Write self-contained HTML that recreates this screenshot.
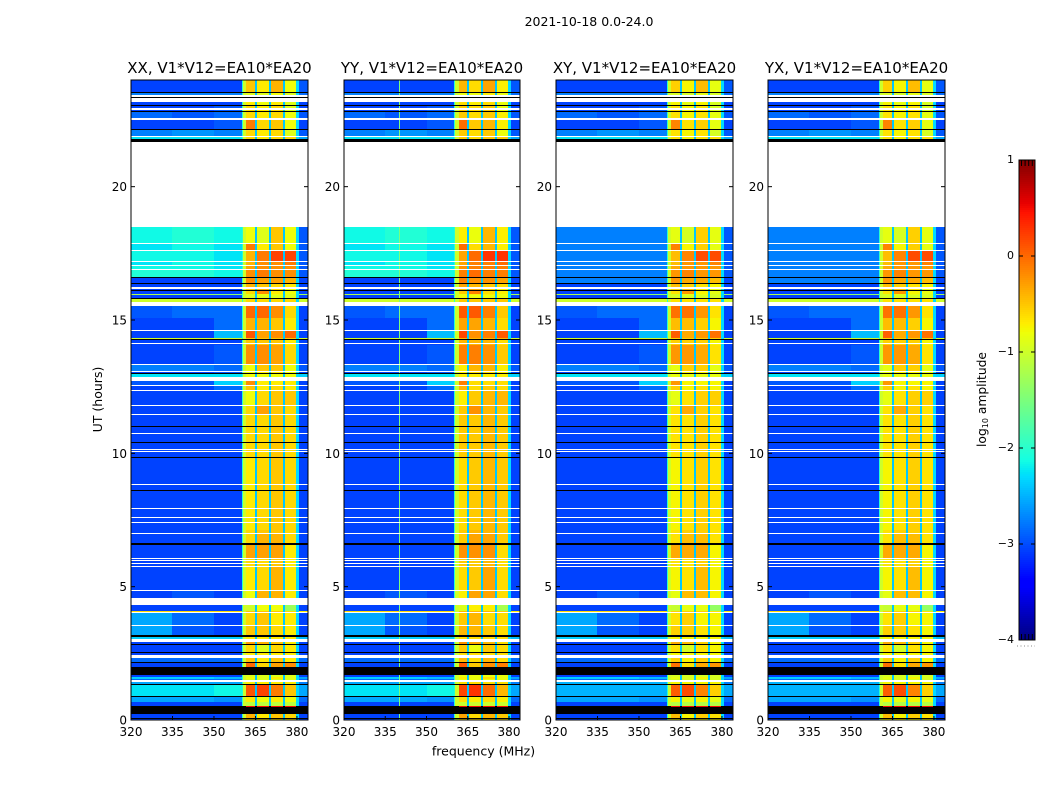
<!DOCTYPE html>
<html lang="en">
<head>
<meta charset="utf-8">
<title>2021-10-18 0.0-24.0</title>
<style>
html,body{margin:0;padding:0;background:#fff;}
svg{display:block;}
text{font-family:"DejaVu Sans","Liberation Sans",sans-serif;fill:#000;}
</style>
</head>
<body>
<svg id="chart" xmlns="http://www.w3.org/2000/svg" width="1050" height="800" viewBox="0 0 1050 800">
<rect x="0" y="0" width="1050" height="800" fill="#fff"/>
<text x="589" y="26" font-size="12.5" text-anchor="middle">2021-10-18 0.0-24.0</text>
<text x="0" y="0" font-size="12.5" text-anchor="middle" transform="translate(102 399.5) rotate(-90)">UT (hours)</text>
<text x="483.5" y="755.5" font-size="12.5" text-anchor="middle">frequency (MHz)</text>
<text x="0" y="0" font-size="12.3" text-anchor="middle" transform="translate(986 399.5) rotate(-90)">log<tspan font-size="8" dy="2">10</tspan><tspan dy="-2"> amplitude</tspan></text>
<g id="panels"></g>
<g id="colorbar"></g>
</svg>
<script>
// ---- chart data ----
const W = null;   // flagged (white) scan
const K = -9;     // blanked (black) scan
const panelTitles = ['XX, V1*V12=EA10*EA20','YY, V1*V12=EA10*EA20','XY, V1*V12=EA10*EA20','YX, V1*V12=EA10*EA20'];
const xTickLabels = [320,335,350,365,380];
const yTickLabels = [0,5,10,15,20];
const colorbarTicks = [1,0,-1,-2,-3,-4];
// frequency column edges (MHz)
const freqEdges = [320,335,350,360.1,360.5,361.7,364.9,365.6,369.8,370.5,375,375.7,379.8,380.6,384];
const preEdgeLevel = -2.0;
const edgeLevel = -1.0;
const postEdgeLevel = -2.3;
const gapLevel = -2.4;
// calibration of the read-off levels
const continuumShift = -0.35;
const continuumFloor = -3.05;
const bandShift = 0.1;
// polarisation level adjustments for the band above 361 MHz
const bandOffset = [0,0.08,-0.05,-0.05];
// cross-hand continuum overrides (hours, log10 amplitude)
const crossStart = [16.45,0.9];
const crossEnd = [18.5,1.45];
const crossLevel = [-2.4,-2.15];
// RFI line frequency in each panel
const rfiFreq = [null,340,null,null];
const rfiLevel = -1.5;
// top edge (UT hours) of each scan, from 24 h downward
const scanTop = [
24.00,23.55,23.51,23.44,23.37,23.35,23.18,23.05,23.01,22.95,
22.89,22.84,22.81,22.58,22.50,22.15,22.11,21.90,21.86,21.79,
21.69,18.50,17.88,17.84,17.63,17.57,17.23,17.18,17.08,17.04,
16.91,16.86,16.61,16.58,16.39,16.35,16.24,16.18,16.13,16.08,
15.98,15.92,15.84,15.79,15.69,15.53,15.08,14.63,14.58,14.33,
14.27,14.25,14.15,14.11,14.08,14.05,13.35,13.31,13.09,13.05,
13.01,12.98,12.88,12.71,12.56,12.53,12.38,12.34,11.81,11.78,
11.46,11.42,11.03,10.99,10.75,10.71,10.44,10.39,10.16,10.11,
10.09,10.05,9.86,9.83,8.85,8.80,8.61,8.57,7.95,7.91,
7.61,7.58,7.44,7.40,7.14,7.11,7.01,6.98,6.64,6.56,
6.09,6.05,6.00,5.96,5.87,5.84,5.78,5.75,4.88,4.84,
4.56,4.31,4.09,4.05,4.00,3.55,3.51,3.17,3.13,3.04,
2.91,2.86,2.81,2.55,2.51,2.45,2.31,2.18,2.14,1.99,
1.67,1.63,1.52,1.50,1.44,1.35,1.31,0.90,0.86,0.69,
0.66,0.51,0.48,0.21,0.08,0.04
];
// levels: 320-335, 335-350, 350-360, sub-band 1..4, 380-384
const scanLevels = [
[-2.9,-2.8,-2.8,-.6,-.8,-.5,-.9,-2.6],K,[-2.4,-2.4,-2.4,-1,-1,-.9,-1,-2.5],W,K,W,
[-2.8,-2.8,-2.7,-.8,-.9,-.8,-1,-2.7],K,[-2.7,-2.7,-2.6,-.7,-.8,-.7,-1,-2.7],W,
[-2.7,-2.7,-2.6,-.7,-.8,-.7,-1,-2.7],K,[-2.5,-2.6,-2.5,-.7,-.8,-.7,-.9,-2.6],W,[-2.8,-2.7,-2.6,-.2,-.7,-.6,-.9,-2.7],K,[-2.4,-2.3,-2.4,-.7,-.8,-.7,-1,-2.6],W,[-1.9,-1.9,-1.9,-.7,-.8,-.7,-.7,-2.2],K,
W,[-1.8,-1.7,-1.8,-.9,-1,-.6,-.9,-2.6],W,[-1.9,-1.8,-1.9,-.2,-.8,-.6,-.9,-2.6],W,[-1.8,-1.8,-1.9,-.5,-.2,.1,.1,-2.6],W,[-1.9,-1.8,-1.9,-.5,-.3,-.3,-.2,-2.6],W,[-1.8,-1.8,-1.9,-.4,-.3,-.3,-.3,-2.6],
W,[-1.7,-1.7,-1.8,-.3,-.2,-.3,-.3,-2.6],K,[-3,-3,-2.9,-.3,-.4,-.4,-.5,-2.9],K,[-2.9,-2.8,-2.7,-.5,-.6,-.7,-.8,-2.8],W,[-3,-3,-2.9,-.6,-.5,-.7,-.9,-3],K,[-2.9,-2.8,-2.7,-.7,-.3,-.8,-.9,-2.9],
[-1.2,-1.3,-1.4,-1,-.9,-.9,-1,-1.3],[-3,-3,-3,-1,-1,-1,-1,-3],K,[-1,-1,-1,-.7,-.7,-.7,-.7,-1],W,[-2.6,-2.5,-2.5,-.1,-.1,-.3,-.7,-2.8],[-2.8,-2.7,-2.5,-.5,-.5,-.6,-.8,-2.8],W,[-2.8,-2.8,-2.1,0,-.4,-.3,-.1,-2.8],[-1,-1,-1,-.6,-.6,-.6,-.6,-1],
K,[-2.8,-2.8,-2.7,-.6,-.6,-.6,-.8,-2.8],W,[-2.8,-2.8,-2.7,-.6,-.6,-.6,-.8,-2.8],W,[-2.8,-2.7,-2.6,-.3,-.3,-.4,-.7,-2.8],W,[-2.4,-2.4,-2.5,-.9,-.6,-.6,-.9,-2.6],W,[-2.7,-2.7,-2.6,-.9,-.8,-.8,-.9,-2.7],
K,[-1.9,-1.9,-1.9,-.9,-.9,-.9,-.9,-2],W,[-2.6,-2.6,-2,-.3,-.8,-.8,-.8,-2.7],W,[-2.8,-2.8,-2.5,-.6,-.8,-.7,-.8,-2.8],W,[-3,-3,-2.9,-.9,-.7,-.6,-.6,-2.9],W,[-3,-3,-2.9,-.7,-.4,-.6,-.7,-2.9],
W,[-2.9,-2.9,-2.9,-.7,-.7,-.6,-.7,-2.9],K,[-2.9,-2.9,-2.9,-.7,-.7,-.6,-.7,-2.9],W,[-2.9,-2.9,-2.9,-.7,-.7,-.6,-.7,-2.9],K,[-2.8,-2.8,-2.8,-.7,-.7,-.6,-.7,-2.9],W,[-2.8,-2.8,-2.8,-.7,-.7,-.6,-.7,-2.9],
W,[-2.8,-2.8,-2.8,-.7,-.7,-.6,-.7,-2.9],K,[-2.9,-2.9,-2.9,-.8,-.7,-.6,-.7,-2.9],W,[-2.9,-2.9,-2.9,-.8,-.7,-.6,-.7,-2.9],K,[-2.9,-2.9,-2.9,-.8,-.7,-.6,-.7,-2.9],W,[-2.9,-2.9,-2.9,-.8,-.7,-.6,-.7,-2.9],
W,[-2.8,-2.8,-2.9,-.8,-.7,-.6,-.7,-2.9],W,[-2.8,-2.8,-2.9,-.8,-.7,-.6,-.7,-2.9],W,[-2.8,-2.8,-2.9,-.7,-.6,-.6,-.7,-2.9],W,[-2.8,-2.8,-2.9,-.7,-.5,-.5,-.7,-2.9],K,[-2.8,-2.8,-2.8,-.4,-.4,-.4,-.8,-2.9],
W,[-2.7,-2.7,-2.8,-.7,-.7,-.6,-.8,-2.9],W,[-2.7,-2.7,-2.8,-.7,-.7,-.6,-.8,-2.9],W,[-2.7,-2.7,-2.8,-.7,-.7,-.6,-.8,-2.9],W,[-2.7,-2.7,-2.8,-.8,-.7,-.5,-.8,-2.8],W,[-2.7,-2.6,-2.7,-.9,-.5,-.5,-.8,-2.9],
W,[-2.8,-2.8,-2.7,-1.1,-.9,-.9,-1.4,-2.8],[-.6,-.6,-.6,-.6,-.6,-.6,-.7,-.7],W,[-2.2,-2.5,-2.7,-.7,-.6,-.8,-.8,-2.9],W,[-2.2,-2.6,-2.8,-.6,-.6,-.7,-.8,-2.9],K,[-2,-2,-2,-.8,-.8,-.8,-.8,-2.1],W,
[-3,-3,-3,-.4,-.5,-.6,-.8,-3],K,[-2.8,-2.7,-2.8,-.7,-1,-.7,-.8,-2.9],K,[-3,-3,-3,-.8,-.8,-.8,-.8,-3],W,[-2.5,-2.5,-2.5,-.6,-.8,-.6,-.8,-2.5],K,[-3,-3,-3,-.1,-.7,-.4,-.3,-3],K,
[-2.8,-2.8,-2.8,-1,-1,-1,-1,-2.8],[-2,-2,-2.1,-.9,-1,-.8,-1,-2.2],[-2.5,-2.5,-2.5,-1,-1,-1,-1,-2.5],W,[-2.2,-2.2,-2.2,-.8,-.8,-.8,-.8,-2.4],K,[-1.9,-1.9,-1.8,0,.1,-.2,-.6,-2.2],K,[-2.2,-2.2,-2.3,-.8,-.9,-.8,-.9,-2.5],K,
[-3,-3,-3,-1.2,-1.2,-1.2,-1.2,-3],[-9,-9,-9,.5,.5,.5,.5,-9],K,[-2.8,-2.8,-2.8,-.5,-.8,-.6,-.7,-2.9],K,[-2.9,-2.9,-2.9,-.8,-.8,-.8,-.8,-2.9]
];
// ---- layout ----
const panelLeft = [131,344,556,768];
const panelRight = [308,520,733,945];
const plotTop = 80, plotBottom = 720;
const NS = 'http://www.w3.org/2000/svg';
const svgPanels = document.getElementById('panels');
const svgBar = document.getElementById('colorbar');

function xScale(p, f){ return panelLeft[p] + (f-320)/(384-320)*(panelRight[p]-panelLeft[p]); }
function yScale(h){ return plotBottom - h/24*(plotBottom-plotTop); }
function jet(v){
  const t = Math.max(0,Math.min(1,(v+4)/5));
  const ch = (pts)=>{ for(let i=1;i<pts.length;i++){ if(t<=pts[i][0]){ const a=pts[i-1],b=pts[i]; return a[1]+(b[1]-a[1])*(t-a[0])/(b[0]-a[0]); } } return pts[pts.length-1][1]; };
  const r = ch([[0,0],[.35,0],[.66,1],[.89,1],[1,.5]]);
  const g = ch([[0,0],[.125,0],[.375,1],[.64,1],[.91,0],[1,0]]);
  const b = ch([[0,.5],[.11,1],[.34,1],[.65,0],[1,0]]);
  return 'rgb('+Math.round(r*255)+','+Math.round(g*255)+','+Math.round(b*255)+')';
}
function colorOf(v){ return v < -5 ? '#000' : jet(v); }
function make(tag, attrs, parent){
  const el = document.createElementNS(NS, tag);
  for (const k in attrs) el.setAttribute(k, attrs[k]);
  parent.appendChild(el);
  return el;
}
function cont(v){ return v < -1.5 ? Math.max(v+continuumShift, continuumFloor) : v; }
function columnLevels(row, p, mid){
  if (row === K) return freqEdges.slice(1).map(()=>K);
  let a = row[0], b = row[1], c = row[2];
  if (p >= 2) {
    for (let i=0;i<crossStart.length;i++) {
      if (mid>=crossStart[i] && mid<=crossEnd[i]) { a=b=c=crossLevel[i]; }
    }
  }
  const o = bandOffset[p] + bandShift;
  const blank = row[0] < -5;
  return blank
    ? [K,K,K,K,K,row[3],K,row[4],K,row[5],K,row[6],K,K]
    : [cont(a),cont(b),cont(c),preEdgeLevel,edgeLevel,row[3]+o,gapLevel,row[4]+o,gapLevel,row[5]+o,gapLevel,row[6]+o,postEdgeLevel,cont(row[7])];
}

panelTitles.forEach((title,p)=>{
  const g = make('g',{},svgPanels);
  
  
  const bg = make('rect',{x:panelLeft[p],y:plotTop,width:panelRight[p]-panelLeft[p],height:plotBottom-plotTop,fill:'#fff'},g);
  
  
  scanLevels.forEach((row,i)=>{
    if (row === W) return;
    const top = scanTop[i];
    const bottom = i+1<scanTop.length ? scanTop[i+1] : 0;
    const y1 = Math.round(yScale(top));
    const y2 = Math.max(y1+1, Math.round(yScale(bottom)));
    const levels = columnLevels(row,p,(top+bottom)/2);
    levels.forEach((v,c)=>{
      const x1 = Math.round(xScale(p,freqEdges[c]));
      const x2 = Math.round(xScale(p,freqEdges[c+1]));
      if (x2 <= x1) return;
      const cell = make('rect',{x:x1,y:y1,width:x2-x1,height:y2-y1,fill:colorOf(v),'shape-rendering':'crispEdges'},g);
      
      
    });
    if (rfiFreq[p] !== null && row !== K && row[0] > -5) {
      const rx = Math.round(xScale(p,rfiFreq[p]));
      const rfi = make('rect',{x:rx,y:y1,width:1,height:y2-y1,fill:colorOf(rfiLevel),'shape-rendering':'crispEdges'},g);
      
      
    }
  });
  const frame = make('rect',{x:panelLeft[p],y:plotTop,width:panelRight[p]-panelLeft[p],height:plotBottom-plotTop,fill:'none',stroke:'#000','stroke-width':1},g);
  
  
  yTickLabels.forEach(h=>{
    const y = yScale(h);
    const t1 = make('line',{x1:panelLeft[p],x2:panelLeft[p]+4,y1:y,y2:y,stroke:'#000'},g);
    
    
    const t2 = make('line',{x1:panelRight[p]-4,x2:panelRight[p],y1:y,y2:y,stroke:'#000'},g);
    
    
    const lab = make('text',{x:panelLeft[p]-4,y:y+4.5,'font-size':12,'text-anchor':'end'},g);
    
    
    lab.textContent = h;
  });
  xTickLabels.forEach(f=>{
    const x = xScale(p,f);
    const t1 = make('line',{x1:x,x2:x,y1:plotBottom-4,y2:plotBottom,stroke:'#000'},g);
    
    
    const lab = make('text',{x:x,y:plotBottom+16,'font-size':12,'text-anchor':'middle'},g);
    
    
    lab.textContent = f;
  });
  const tt = make('text',{x:(panelLeft[p]+panelRight[p])/2,y:plotTop-7,'font-size':15,'text-anchor':'middle'},g);
  
  
  tt.textContent = title;
});

// ---- colorbar ----
const barLeft = 1019, barRight = 1035, barTop = 160, barBottom = 640;
function barY(v){ return barBottom - (v+4)/5*(barBottom-barTop); }
for (let py = barTop; py < barBottom; py += 2) {
  const seg = make('rect',{x:barLeft,y:py,width:barRight-barLeft,height:2,fill:jet(-4+(barBottom-py-1)/(barBottom-barTop)*5),'shape-rendering':'crispEdges'},svgBar);
  
  
}
const barFrame = make('rect',{x:barLeft,y:barTop,width:barRight-barLeft,height:barBottom-barTop,fill:'none',stroke:'#000','stroke-width':1},svgBar);


colorbarTicks.forEach(v=>{
  const y = barY(v);
  const a = make('line',{x1:barLeft,x2:barLeft+4,y1:y,y2:y,stroke:'#000'},svgBar);
  
  
  const b = make('line',{x1:barRight-4,x2:barRight,y1:y,y2:y,stroke:'#000'},svgBar);
  
  
  const lab = make('text',{x:1014,y:y+3,'font-size':11,'text-anchor':'end'},svgBar);
  
  
  lab.textContent = v < 0 ? '\u2212'+Math.abs(v) : String(v);
});
const minorTop = make('line',{x1:barLeft+2,x2:barRight-1,y1:barTop+3,y2:barTop+3,stroke:'#000','stroke-width':6,'stroke-dasharray':'1 2.6'},svgBar);


const minorBottom = make('line',{x1:barLeft+2,x2:barRight-1,y1:barBottom-3,y2:barBottom-3,stroke:'#000','stroke-width':6,'stroke-dasharray':'1 2.6'},svgBar);


const dots = make('line',{x1:1017,x2:1035,y1:646,y2:646,stroke:'#888','stroke-width':1,'stroke-dasharray':'1 2.5'},svgBar);


</script>
</body>
</html>
